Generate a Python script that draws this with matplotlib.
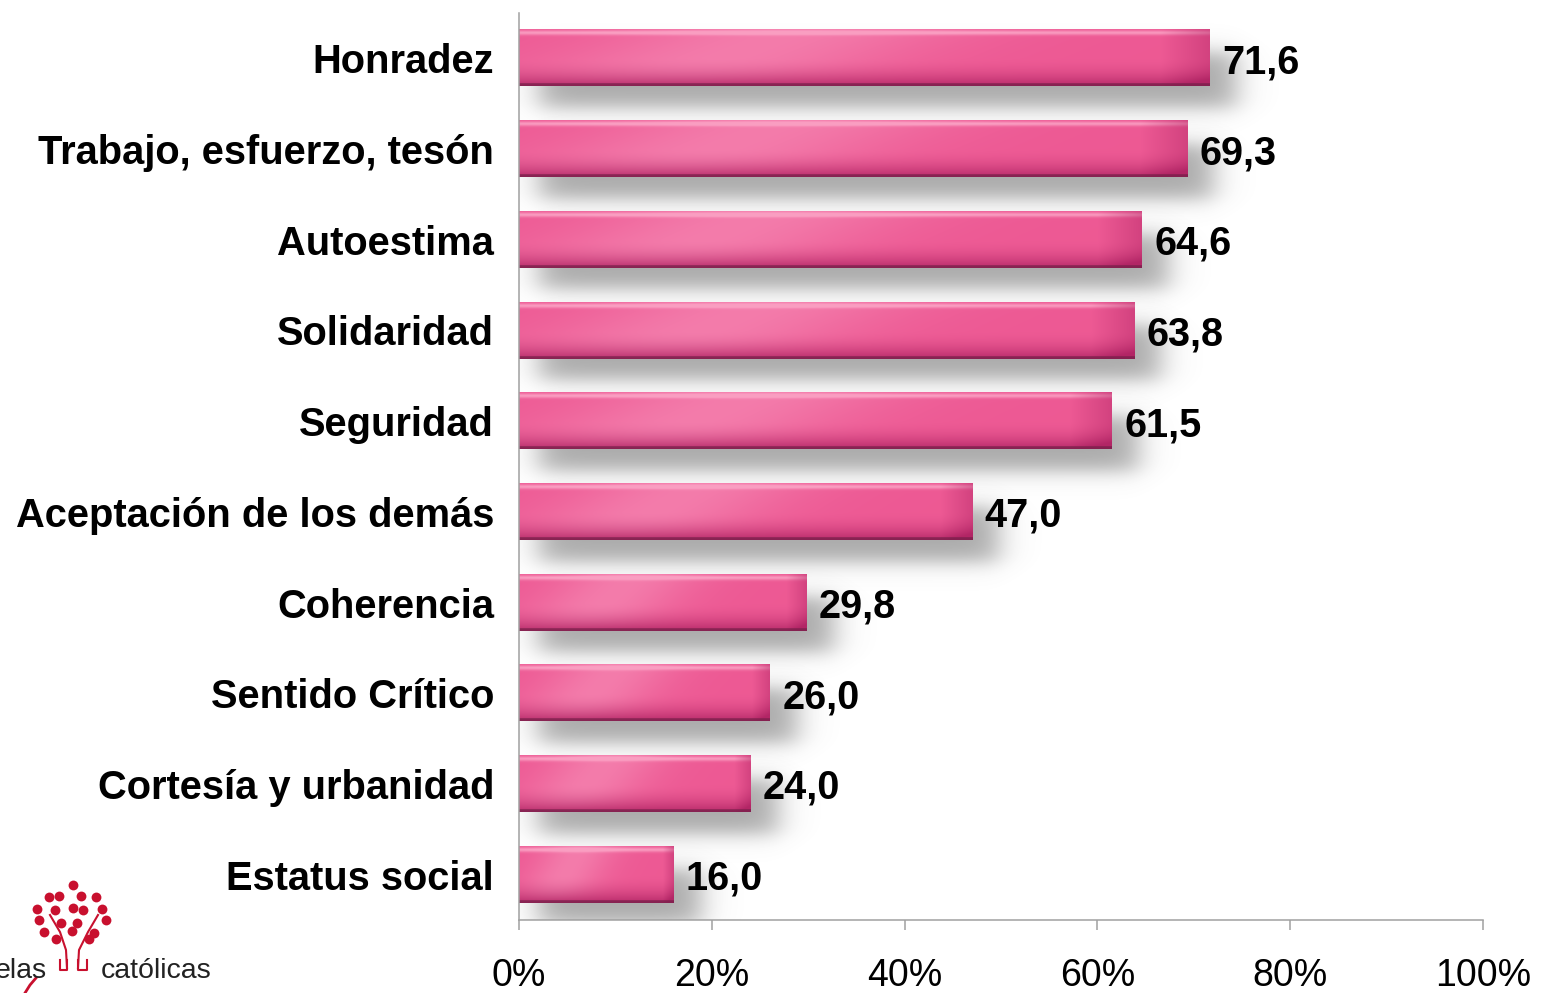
import numpy as np
import matplotlib
matplotlib.use('Agg')
import matplotlib.pyplot as plt

# Data
categories = ['Honradez', 'Trabajo, esfuerzo, tesón', 'Autoestima', 'Solidaridad',
              'Seguridad', 'Aceptación de los demás', 'Coherencia', 'Sentido Crítico',
              'Cortesía y urbanidad', 'Estatus social']
values = [71.6, 69.3, 64.6, 63.8, 61.5, 47.0, 29.8, 26.0, 24.0, 16.0]
xticks = [0, 20, 40, 60, 80, 100]
xtick_labels = ['0%', '20%', '40%', '60%', '80%', '100%']

plt.rcParams['font.family'] = ['Liberation Sans', 'DejaVu Sans']

W, H = 1541, 993
fig = plt.figure(figsize=(W / 100, H / 100), dpi=100)
ax = fig.add_axes([519 / W, 1 - 920 / H, (1483 - 519) / W, (920 - 13) / H])

BAR_H = 0.62


def smooth_box(t, a, b, w):
    return 0.25 * (1 + np.tanh((t - a) / w)) * (1 + np.tanh((b - t) / w))


def bar_image(nx=500, ny=80):
    # glossy pink fill, row 0 = top of the bar
    u = np.linspace(0, 1, nx)[None, :]
    v = np.linspace(0, 1, ny)[:, None]
    base = np.array([0.93, 0.35, 0.58])
    light = np.array([0.98, 0.62, 0.76])
    dark = np.array([0.70, 0.15, 0.40])
    sheen = 0.5 * np.exp(-((u - 0.40 + 0.2 * v) / 0.25) ** 2)
    top = np.exp(-((v - 0.06) / 0.04) ** 2)
    bottom = np.clip((v - 0.5) / 0.5, 0, 1) ** 2
    right = np.clip((u - 0.93) / 0.07, 0, 1)
    img = base + (light - base) * np.clip(sheen + 0.9 * top, 0, 1)[..., None]
    shade = np.clip(0.9 * bottom + 0.45 * right, 0, 1)[..., None]
    img = img + (dark - img) * shade
    edge = (v > 0.96) * np.ones_like(u)
    img = img + (np.array([0.45, 0.12, 0.28]) - img) * (0.7 * edge)[..., None]
    return np.clip(img, 0, 1)


def shadow_image(x0, x1, y0, y1, ext):
    nx, ny = 300, 80
    xs = np.linspace(ext[0], ext[1], nx)[None, :]
    ys = np.linspace(ext[2], ext[3], ny)[:, None]
    a = 0.6 * smooth_box(xs, x0, x1, 1.8) * smooth_box(ys, y0, y1, 0.13)
    img = np.zeros((ny, nx, 4))
    img[..., :3] = 0.45
    img[..., 3] = a
    return img


fill = bar_image()
for i, val in enumerate(values):
    # soft drop shadow
    sx0, sx1 = 2.0, val + 2.8
    sy0, sy1 = i - BAR_H / 2 + 0.25, i + BAR_H / 2 + 0.24
    ext = (sx0 - 6, sx1 + 6, sy0 - 0.45, sy1 + 0.45)
    ax.imshow(shadow_image(sx0, sx1, sy0, sy1, ext), extent=ext, origin='lower',
              aspect='auto', zorder=1, interpolation='bilinear')
    ax.imshow(fill, extent=(0, val, i - BAR_H / 2, i + BAR_H / 2), origin='lower',
              aspect='auto', zorder=2, interpolation='bilinear')
    ax.text(val + 1.3, i, f'{val:.1f}'.replace('.', ','), va='center_baseline', ha='left',
            fontsize=28.5, fontweight='bold', color='black', zorder=3)

ax.set_xlim(0, 100)
ax.set_ylim(len(values) - 0.5, -0.5)
ax.set_yticks(range(len(categories)))
ax.set_yticklabels(categories, fontsize=28.7, fontweight='bold')
ax.set_xticks(xticks)
ax.set_xticklabels(xtick_labels, fontsize=27)
ax.tick_params(axis='y', length=0, pad=18)
ax.tick_params(axis='x', length=7, width=1.1, color='#A0A0A0', pad=20, direction='out')
for side in ['top', 'right']:
    ax.spines[side].set_visible(False)
for side in ['left', 'bottom']:
    ax.spines[side].set_color('#A0A0A0')
    ax.spines[side].set_linewidth(1.1)

# Logo (decorative, bottom-left corner, pixel coordinates)
lax = fig.add_axes([0, 0, 260 / W, 133 / H])
lax.set_xlim(0, 260)
lax.set_ylim(993, 860)
lax.axis('off')
red = '#C8102E'
dots = [(72.7, 885), (49.3, 897), (59.3, 896), (80.7, 896), (96, 897), (36.7, 909),
        (55, 910), (72.7, 908), (83.3, 910), (102, 909), (39.3, 920), (60.7, 923),
        (77.3, 923), (106, 920), (44.3, 932), (71.7, 931), (94, 933), (56, 939), (89.3, 939)]
lax.scatter([d[0] for d in dots], [d[1] for d in dots], s=50, color=red, lw=0)
lax.plot([50, 60, 66, 67], [915, 932, 950, 968], color=red, lw=1.5)
lax.plot([98, 88, 79, 78], [915, 932, 950, 968], color=red, lw=1.5)
lax.plot([60, 60, 67, 67], [960, 970, 970, 960], color=red, lw=1.5)
lax.plot([78, 78, 87, 87], [960, 970, 970, 960], color=red, lw=1.5)
lax.plot([25, 30, 36], [993, 985, 978], color=red, lw=2)
lax.text(-5, 971, 'elas', fontsize=20.5, color='#222222', va='center', ha='left')
lax.text(101, 971, 'católicas', fontsize=20.5, color='#222222', va='center', ha='left')

fig.savefig('out.png', dpi=100)
